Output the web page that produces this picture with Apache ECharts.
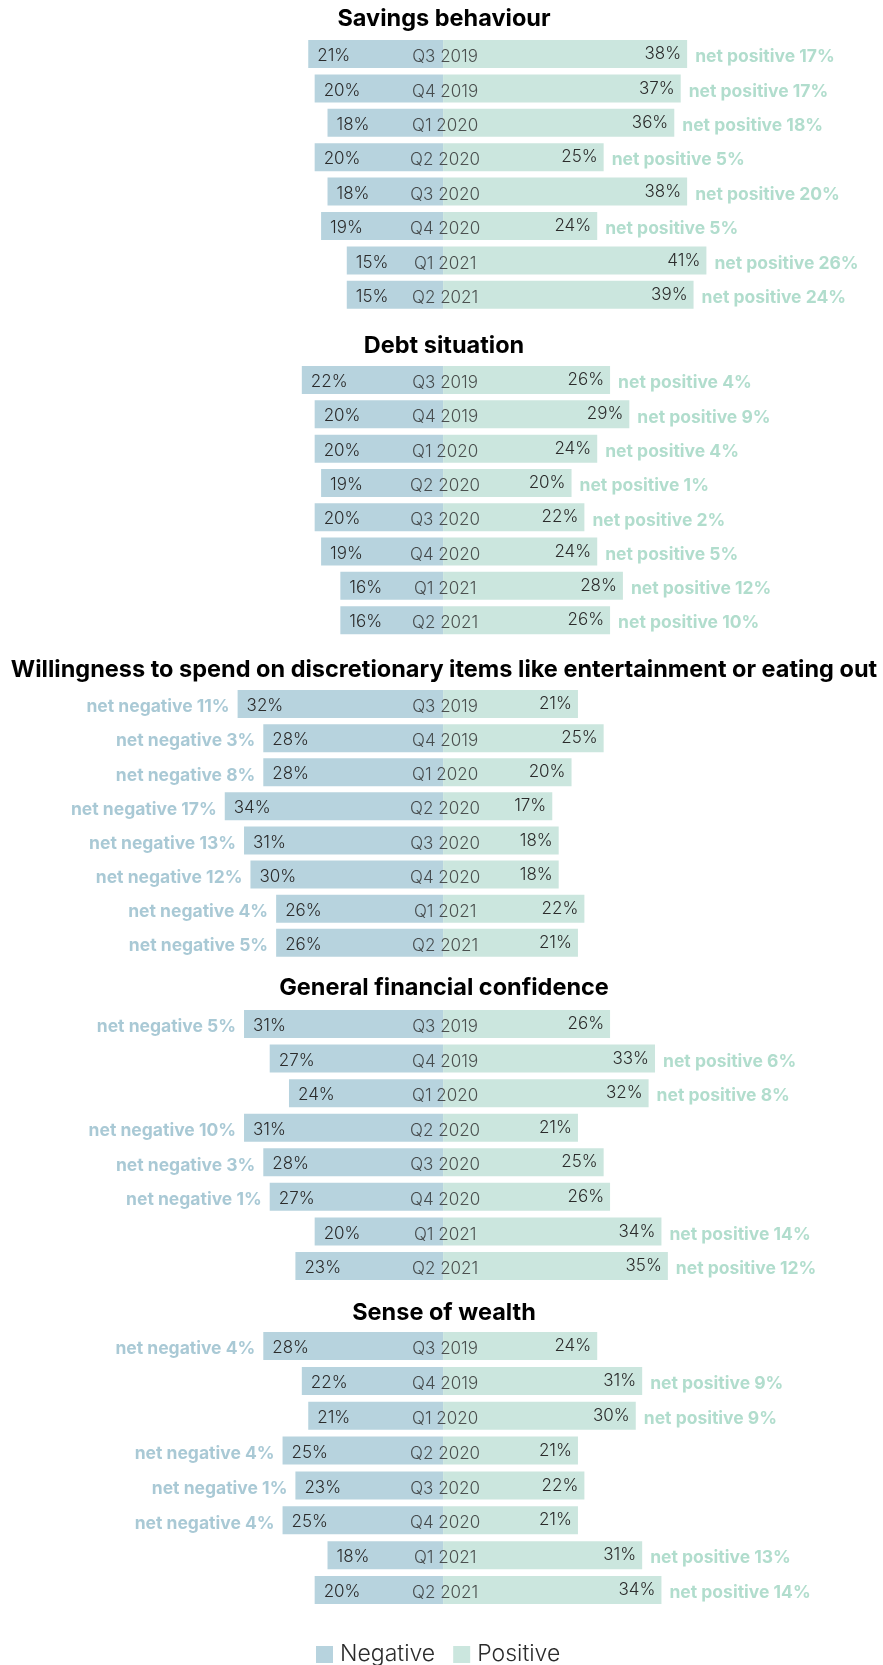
<!DOCTYPE html>
<html>
<head>
<meta charset="utf-8">
<script src="https://cdn.jsdelivr.net/npm/echarts@6/dist/echarts.min.js"></script>
<style>
html,body{margin:0;padding:0;background:#fff;}
#chart{width:883px;height:1665px;}
</style>
</head>
<body>
<div id="chart"></div>
<script>
var quarters = ['Q3 2019','Q4 2019','Q1 2020','Q2 2020','Q3 2020','Q4 2020','Q1 2021','Q2 2021'];
var sectionTitles = ['Savings behaviour','Debt situation','Willingness to spend on discretionary items like entertainment or eating out','General financial confidence','Sense of wealth'];

var negSavings = [21,20,18,20,18,19,15,15];
var posSavings = [38,37,36,25,38,24,41,39];
var netSavings = [17,17,18,5,20,5,26,24];

var negDebt = [22,20,20,19,20,19,16,16];
var posDebt = [26,29,24,20,22,24,28,26];
var netDebt = [4,9,4,1,2,5,12,10];

var negSpend = [32,28,28,34,31,30,26,26];
var posSpend = [21,25,20,17,18,18,22,21];
var netSpend = [-11,-3,-8,-17,-13,-12,-4,-5];

var negConfidence = [31,27,24,31,28,27,20,23];
var posConfidence = [26,33,32,21,25,26,34,35];
var netConfidence = [-5,6,8,-10,-3,-1,14,12];

var negWealth = [28,22,21,25,23,25,18,20];
var posWealth = [24,31,30,21,22,21,31,34];
var netWealth = [-4,9,9,-4,-1,-4,13,14];

var sections = [
  {neg: negSavings, pos: posSavings, net: netSavings},
  {neg: negDebt, pos: posDebt, net: netDebt},
  {neg: negSpend, pos: posSpend, net: netSpend},
  {neg: negConfidence, pos: posConfidence, net: netConfidence},
  {neg: negWealth, pos: posWealth, net: netWealth}
];

// layout (pixels)
var gridTops = [36.8, 362.9, 687, 1006.7, 1328.6];
var gridHeights = [275.2, 274.4, 272.8, 276.6, 278.9];
var titleY = [19, 346, 670, 988, 1313];

var NEG_COLOR = '#b7d3de';
var POS_COLOR = '#cbe6de';
var NET_NEG_COLOR = '#94bccb';
var NET_POS_COLOR = '#9dd4c0';
var TEXT = '#2b2b2b';
var FONT = 'Inter, "Noto Sans", sans-serif';

var grids = [], xAxes = [], yAxes = [], series = [], graphics = [];

sections.forEach(function (s, i) {
  grids.push({left: 0, right: 0, top: gridTops[i], height: gridHeights[i], containLabel: false});
  xAxes.push({type: 'value', gridIndex: i, min: -69, max: 68.5, show: false});
  yAxes.push({type: 'category', gridIndex: i, data: quarters, inverse: true, show: false});

  series.push({
    name: 'Negative', type: 'bar', xAxisIndex: i, yAxisIndex: i, stack: 'row' + i,
    barWidth: 28, itemStyle: {color: NEG_COLOR},
    data: s.neg.map(function (v) { return -v; }),
    label: {show: true, position: 'insideLeft', distance: 9, offset: [0, 2],
      formatter: function (p) { return Math.abs(p.value) + '%'; },
      color: TEXT, fontSize: 17, fontFamily: FONT, fontWeight: 300},
    silent: true, animation: false
  });
  series.push({
    name: 'Positive', type: 'bar', xAxisIndex: i, yAxisIndex: i, stack: 'row' + i,
    barWidth: 28, itemStyle: {color: POS_COLOR},
    data: s.pos.slice(),
    label: {show: true, position: 'insideRight', distance: 6,
      formatter: function (p) { return p.value + '%'; },
      color: TEXT, fontSize: 17, fontFamily: FONT, fontWeight: 300},
    silent: true, animation: false
  });
  // category labels centred on zero line
  series.push({
    type: 'scatter', xAxisIndex: i, yAxisIndex: i, symbolSize: 0,
    data: quarters.map(function (q) { return [0, q]; }),
    label: {show: true, position: 'inside', offset: [2, 3],
      formatter: function (p) { return p.value[1]; },
      color: TEXT, fontSize: 17, fontFamily: FONT, fontWeight: 300},
    silent: true, animation: false, z: 5
  });
  // net labels
  series.push({
    type: 'scatter', xAxisIndex: i, yAxisIndex: i, symbolSize: 0,
    data: s.net.map(function (n, k) {
      var positive = n > 0;
      return {
        value: [positive ? s.pos[k] : -s.neg[k], quarters[k]],
        label: {
          show: true,
          position: positive ? 'right' : 'left',
          distance: 8,
          offset: [0, 3],
          color: positive ? NET_POS_COLOR : NET_NEG_COLOR,
          formatter: (positive ? 'net positive ' : 'net negative ') + Math.abs(n) + '%'
        }
      };
    }),
    label: {show: true, fontSize: 17.5, fontFamily: FONT, fontWeight: 700},
    silent: true, animation: false, z: 5
  });

  graphics.push({
    type: 'text', x: 444, y: titleY[i],
    style: {text: sectionTitles[i], fill: '#000', font: '700 23.5px ' + FONT,
      textAlign: 'center', textVerticalAlign: 'middle'}
  });
});

var chart = echarts.init(document.getElementById('chart'), null, {renderer: 'canvas'});
chart.setOption({
  animation: false,
  backgroundColor: '#fff',
  grid: grids,
  xAxis: xAxes,
  yAxis: yAxes,
  series: series,
  graphic: graphics,
  legend: {
    data: ['Negative', 'Positive'],
    left: 316, top: 1643, padding: 0,
    icon: 'rect', itemWidth: 17, itemHeight: 17, itemGap: 18,
    textStyle: {color: TEXT, fontSize: 23, fontWeight: 300, fontFamily: FONT, padding: [0, 0, 0, 2]},
    selectedMode: false
  }
});
</script>
</body>
</html>
